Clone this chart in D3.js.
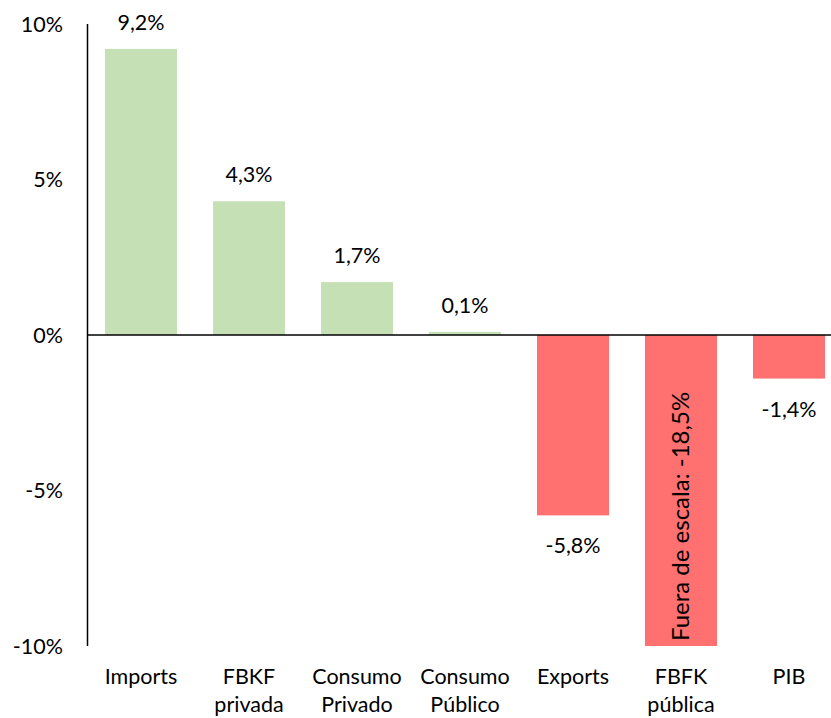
<!DOCTYPE html>
<html>
<head>
<meta charset="utf-8">
<script src="https://cdn.jsdelivr.net/npm/d3@7/dist/d3.min.js"></script>
<style>
  html, body { margin: 0; padding: 0; background: #fff; }
  svg { display: block; }
  text { font-family: "Lato", "Open Sans", sans-serif; fill: #000; }
</style>
</head>
<body>
<svg id="chart" width="831" height="718"></svg>
<script>
// Variación (%) por componente de la demanda
const categories = ["Imports", "FBKF privada", "Consumo Privado", "Consumo Público", "Exports", "FBFK pública", "PIB"];
const values = [9.2, 4.3, 1.7, 0.1, -5.8, -18.5, -1.4];
const valueLabels = ["9,2%", "4,3%", "1,7%", "0,1%", "-5,8%", "Fuera de escala: -18,5%", "-1,4%"];
const categoryLines = [["Imports"], ["FBKF", "privada"], ["Consumo", "Privado"], ["Consumo", "Público"], ["Exports"], ["FBFK", "pública"], ["PIB"]];
const yTicks = [10, 5, 0, -5, -10];
const yTickLabels = ["10%", "5%", "0%", "-5%", "-10%"];
const yMin = -10, yMax = 10;

const svg = d3.select("#chart");
const W = 831;

const x = d3.scaleBand().domain(categories).range([87, 843]).paddingInner(1/3).paddingOuter(1/6);
const y = d3.scaleLinear().domain([yMin, yMax]).range([646, 24]).clamp(true);

const green = "#C5E0B4", red = "#FF7070";
const fs = 21.5;

// bars (values beyond the axis range are clipped at its limit)
svg.append("g").selectAll("rect").data(values).join("rect")
  .attr("x", (d, i) => x(categories[i]))
  .attr("width", x.bandwidth())
  .attr("y", d => y(Math.max(d, 0)))
  .attr("height", d => Math.abs(y(d) - y(0)))
  .attr("fill", d => d >= 0 ? green : red);

// y axis line and zero line
svg.append("line").attr("x1", 87.5).attr("x2", 87.5).attr("y1", y(yMax)).attr("y2", y(yMin))
  .attr("stroke", "#000").attr("stroke-width", 1.5);
svg.append("line").attr("x1", 87).attr("x2", W).attr("y1", y(0)).attr("y2", y(0))
  .attr("stroke", "#000").attr("stroke-width", 1.5);

// y tick labels
svg.append("g").selectAll("text").data(yTicks).join("text")
  .attr("x", 63).attr("y", d => y(d)).attr("dy", "0.35em")
  .attr("text-anchor", "end").attr("font-size", fs)
  .text((d, i) => yTickLabels[i]);

// value labels
values.forEach((v, i) => {
  const cx = x(categories[i]) + x.bandwidth() / 2;
  if (v < yMin || v > yMax) {
    svg.append("text")
      .attr("transform", `translate(${cx + 8},${y(yMin) - 5}) rotate(-90)`)
      .attr("text-anchor", "start").attr("font-size", 24)
      .text(valueLabels[i]);
  } else if (v >= 0) {
    svg.append("text").attr("x", cx).attr("y", y(v) - 19)
      .attr("text-anchor", "middle").attr("font-size", fs).text(valueLabels[i]);
  } else {
    svg.append("text").attr("x", cx).attr("y", y(v) + 38)
      .attr("text-anchor", "middle").attr("font-size", fs).text(valueLabels[i]);
  }
});

// category labels
categories.forEach((c, i) => {
  const cx = x(c) + x.bandwidth() / 2;
  const t = svg.append("text").attr("text-anchor", "middle").attr("font-size", fs);
  categoryLines[i].forEach((line, j) => {
    t.append("tspan").attr("x", cx).attr("y", 684 + j * 28).text(line);
  });
});
</script>
</body>
</html>
